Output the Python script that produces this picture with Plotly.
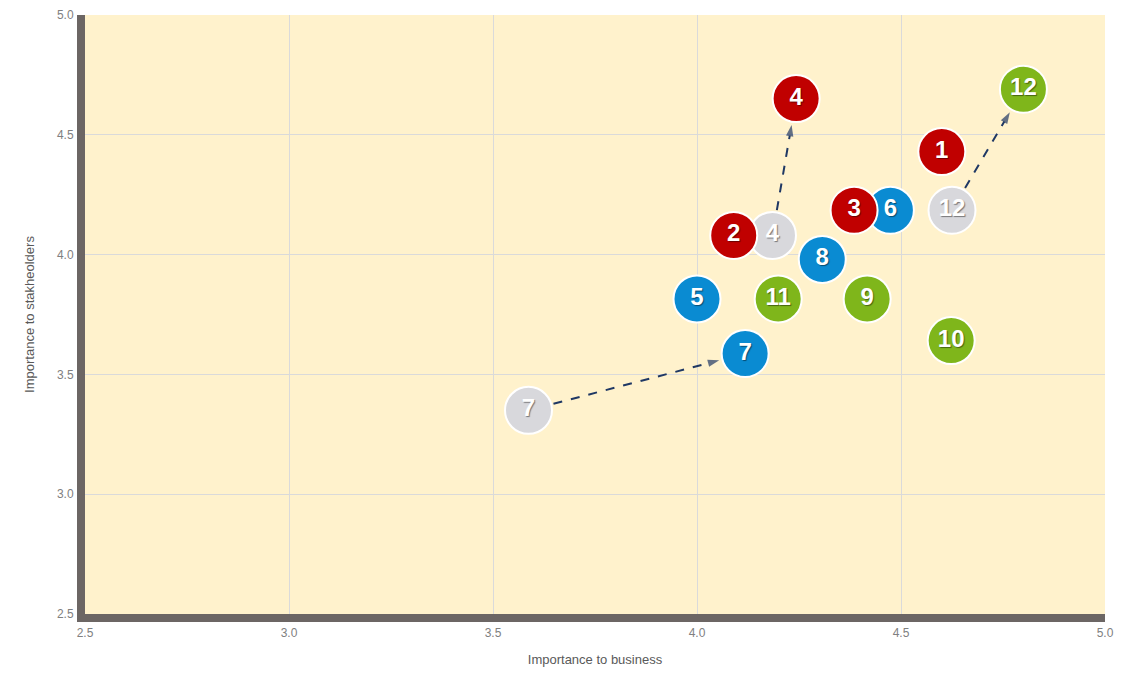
import plotly.graph_objects as go

# ---- data ----
labels = ["1", "2", "3", "4", "5", "6", "7", "8", "9", "10", "11", "12"]
groups = ["red", "red", "red", "red", "blue", "blue", "blue", "blue",
          "green", "green", "green", "green"]
business = [4.60, 4.09, 4.385, 4.243, 4.00, 4.474, 4.118, 4.307, 4.417, 4.623, 4.199, 4.80]
stakeholders = [4.43, 4.08, 4.185, 4.651, 3.815, 4.185, 3.587, 3.98, 3.815, 3.641, 3.815, 4.69]

prev_labels = ["4", "7", "12"]
prev_business = [4.185, 3.587, 4.625]
prev_stakeholders = [4.08, 3.35, 4.185]

x_ticks = [2.5, 3.0, 3.5, 4.0, 4.5, 5.0]
y_ticks = [2.5, 3.0, 3.5, 4.0, 4.5, 5.0]

# ---- style ----
W, H = 1122, 677
ML, MR, MT, MB = 85, 10, 8, 63
XR = [2.5, 5.0]
YR = [2.5, 5.0]
colors = {"red": "#c00000", "blue": "#0a8bd2", "green": "#7fb61b", "gray": "#d8d8dc"}
label_font = dict(family="Liberation Sans, Arial, sans-serif", size=24, color="white",
                  weight="bold", shadow="1px 1px 1px rgba(0,0,0,0.45)")
MSIZE = 47
small_font = "Liberation Sans Narrow, Liberation Sans, sans-serif"

fig = go.Figure()

# previous positions (gray)
fig.add_trace(go.Scatter(
    x=prev_business, y=prev_stakeholders, mode="markers+text",
    text=prev_labels, textposition="middle center", textfont=label_font,
    marker=dict(size=MSIZE, color=colors["gray"], line=dict(color="white", width=2)),
    hoverinfo="skip", showlegend=False))

# arrows from previous to current
px_x = (W - ML - MR) / (XR[1] - XR[0])
px_y = (H - MT - MB) / (YR[1] - YR[0])
for lab, bx, by in zip(prev_labels, prev_business, prev_stakeholders):
    i = labels.index(lab)
    cx, cy = business[i], stakeholders[i]
    dxp = (cx - bx) * px_x
    dyp = (cy - by) * px_y
    dist = (dxp ** 2 + dyp ** 2) ** 0.5
    f0 = 26 / dist
    f1 = 1 - 27 / dist
    x0, y0 = bx + (cx - bx) * f0, by + (cy - by) * f0
    x1, y1 = bx + (cx - bx) * f1, by + (cy - by) * f1
    fig.add_trace(go.Scatter(
        x=[x0, x1], y=[y0, y1], mode="lines+markers",
        line=dict(color="#1f3864", width=2, dash="dash"),
        marker=dict(symbol=["circle", "arrow"], size=[0.1, 12], angleref="previous",
                    color="#1f3864", line=dict(width=0)),
        hoverinfo="skip", showlegend=False))

# current positions by group
for g in ["blue", "green", "red"]:
    idx = [k for k, gg in enumerate(groups) if gg == g]
    fig.add_trace(go.Scatter(
        x=[business[k] for k in idx], y=[stakeholders[k] for k in idx],
        mode="markers+text", text=[labels[k] for k in idx],
        textposition="middle center", textfont=label_font,
        marker=dict(size=MSIZE, color=colors[g], line=dict(color="white", width=2)),
        hoverinfo="skip", showlegend=False))

axis_common = dict(
    showgrid=True, gridcolor="#dadada", gridwidth=1, zeroline=False,
    showline=True, linecolor="#6c6664", linewidth=8,
    tickfont=dict(family=small_font, size=12, color="#808080"),
    ticks="outside", ticklen=1, tickcolor="rgba(0,0,0,0)", tickformat=".1f",
)
fig.update_layout(
    width=W, height=H,
    margin=dict(l=ML, r=MR, t=MT, b=MB),
    paper_bgcolor="white", plot_bgcolor="#fff2cc",
    xaxis=dict(range=XR, tickvals=x_ticks,
               title=dict(text="Importance to business", standoff=18,
                          font=dict(family=small_font, size=13, color="#595959")),
               **axis_common),
    yaxis=dict(range=YR, tickvals=y_ticks,
               title=dict(text="Importance to stakheolders", standoff=22,
                          font=dict(family=small_font, size=13, color="#595959")),
               **axis_common),
)

fig.write_html("out.html", config={"displayModeBar": False},
               post_script="document.body.style.margin='0';document.body.style.overflow='hidden';")
